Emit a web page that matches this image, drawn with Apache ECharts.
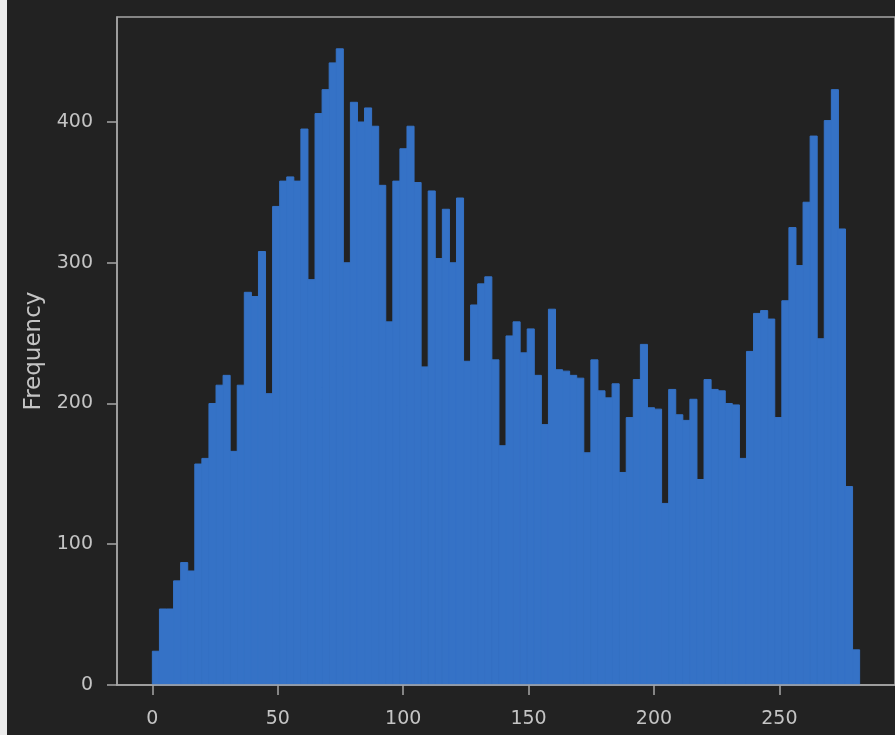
<!DOCTYPE html>
<html>
<head>
<meta charset="utf-8">
<script src="https://cdn.jsdelivr.net/npm/echarts@6/dist/echarts.min.js"></script>
<style>
  html, body { margin: 0; padding: 0; background: #222222; }
  #chart { width: 895px; height: 735px; }
</style>
</head>
<body>
<div id="chart"></div>
<script>
// Histogram: 100 equal-width bins spanning the data range
const binLow = 0;
const binHigh = 282;
const binCount = 100;
const frequencies = [
  24, 54, 54, 74, 87, 81, 157, 161, 200, 213,
  220, 166, 213, 279, 276, 308, 207, 340, 358, 361,
  358, 395, 288, 406, 423, 442, 452, 300, 414, 400,
  410, 397, 355, 258, 358, 381, 397, 357, 226, 351,
  303, 338, 300, 346, 230, 270, 285, 290, 231, 170,
  248, 258, 236, 253, 220, 185, 267, 224, 223, 220,
  218, 165, 231, 209, 204, 214, 151, 190, 217, 242,
  197, 196, 129, 210, 192, 188, 203, 146, 217, 210,
  209, 200, 199, 161, 237, 264, 266, 260, 190, 273,
  325, 298, 343, 390, 246, 401, 423, 324, 141, 25
];
const xTicks = [0, 50, 100, 150, 200, 250];
const yTicks = [0, 100, 200, 300, 400];

const binWidth = (binHigh - binLow) / binCount;
const bins = frequencies.map((f, i) => [binLow + i * binWidth, binLow + (i + 1) * binWidth, f]);

// 5% padding on both sides of the bins, headroom above the tallest bar
const span = binHigh - binLow;
const xMin = binLow - 0.05 * span;
const xMax = binHigh + 0.05 * span;
const yMax = Math.max(...frequencies) * 1.05;

const barColor = '#3572c6';
const textColor = '#c4c4c4';
const spineColor = '#a6a6a6';
const font = 'DejaVu Sans';

const chart = echarts.init(document.getElementById('chart'), null, { renderer: 'canvas' });
chart.setOption({
  backgroundColor: '#222222',
  animation: false,
  graphic: [{
    type: 'rect', left: 0, top: 0, z: 100,
    shape: { width: 7, height: 735 },
    style: { fill: '#ececec' }
  }],
  grid: {
    left: 117, right: -3, top: 17, bottom: 50,
    show: true, borderColor: spineColor, borderWidth: 1.5,
    backgroundColor: 'transparent'
  },
  xAxis: {
    type: 'value', min: xMin, max: xMax, z: 5,
    axisLine: { show: true, onZero: false, lineStyle: { color: spineColor, width: 1.5 } },
    axisTick: { show: true, length: 10, customValues: xTicks, lineStyle: { color: spineColor, width: 1.5 } },
    axisLabel: { customValues: xTicks, color: textColor, fontFamily: font, fontSize: 19, margin: 25 },
    splitLine: { show: false }
  },
  yAxis: {
    type: 'value', min: 0, max: yMax, z: 5,
    name: 'Frequency', nameLocation: 'middle', nameRotate: 90, nameGap: 71,
    nameTextStyle: { color: textColor, fontFamily: font, fontSize: 23 },
    axisLine: { show: true, onZero: false, lineStyle: { color: spineColor, width: 1.5 } },
    axisTick: { show: true, length: 10, customValues: yTicks, lineStyle: { color: spineColor, width: 1.5 } },
    axisLabel: { customValues: yTicks, color: textColor, fontFamily: font, fontSize: 19, margin: 24 },
    splitLine: { show: false }
  },
  series: [{
    type: 'custom',
    data: bins,
    encode: { x: [0, 1], y: 2 },
    renderItem: function (params, api) {
      const p0 = api.coord([api.value(0), api.value(2)]);
      const p1 = api.coord([api.value(1), 0]);
      return {
        type: 'rect',
        shape: { x: p0[0], y: p0[1], width: p1[0] - p0[0], height: p1[1] - p0[1] },
        style: { fill: barColor, stroke: barColor, lineWidth: 1 }
      };
    }
  }]
});
</script>
</body>
</html>
